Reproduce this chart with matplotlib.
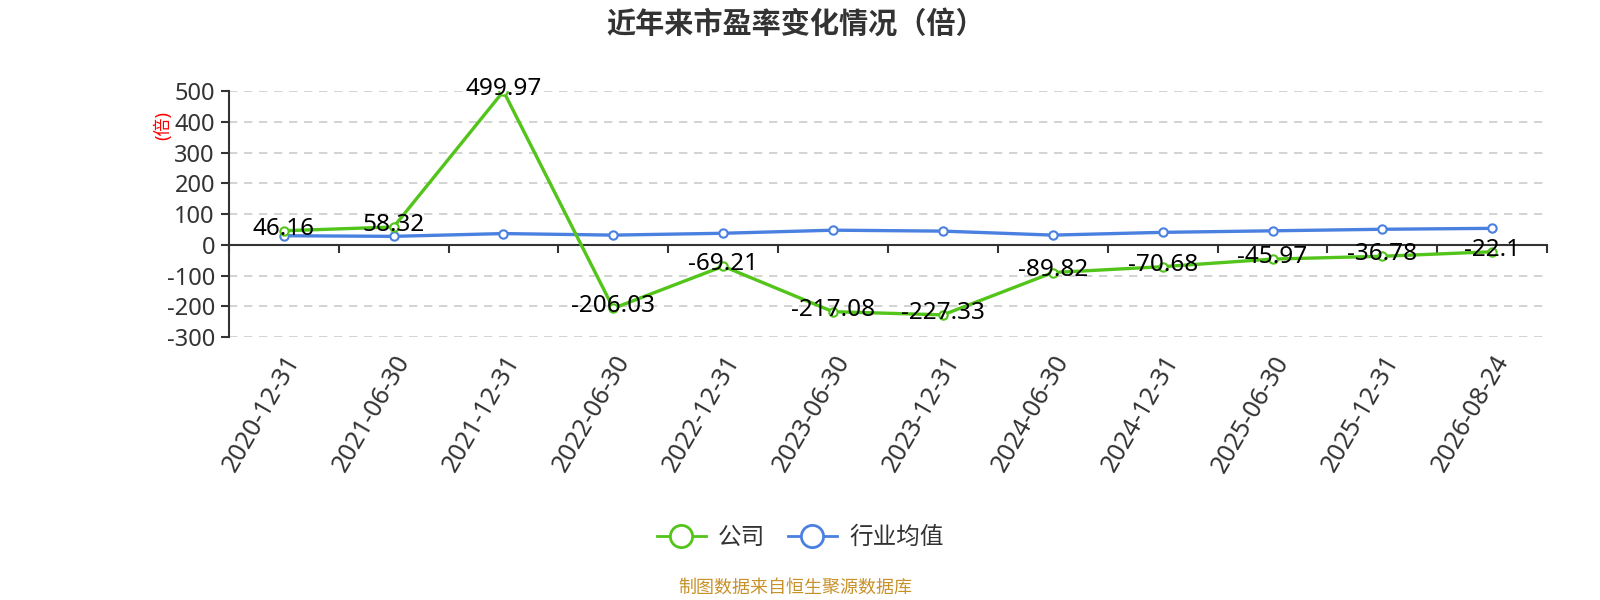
import numpy as np
import matplotlib
matplotlib.use('Agg')
import matplotlib.pyplot as plt
from matplotlib.lines import Line2D

plt.rcParams['font.family'] = ['Noto Sans', 'Noto Sans CJK SC', 'DejaVu Sans']

# Data
dates = ['2020-12-31', '2021-06-30', '2021-12-31', '2022-06-30', '2022-12-31', '2023-06-30',
         '2023-12-31', '2024-06-30', '2024-12-31', '2025-06-30', '2025-12-31', '2026-08-24']
company = [46.16, 58.32, 499.97, -206.03, -69.21, -217.08, -227.33, -89.82, -70.68, -45.97, -36.78, -22.1]
company_labels = ['46.16', '58.32', '499.97', '-206.03', '-69.21', '-217.08', '-227.33',
                  '-89.82', '-70.68', '-45.97', '-36.78', '-22.1']
industry = [30, 28, 37, 32, 38, 48, 45, 32, 41, 46, 51, 54]
yticks = [-300, -200, -100, 0, 100, 200, 300, 400, 500]

green = '#52C41A'
blue = '#4A80E0'
dark = '#333333'

fig = plt.figure(figsize=(16, 6), dpi=100)
ax = fig.add_axes([0.143, 0.438, 0.824, 0.41])

x = np.arange(len(dates))
ax.plot(x, industry, color=blue, lw=2.4, marker='o', ms=6, mfc='white', mec=blue, mew=1.5, zorder=3)
ax.plot(x, company, color=green, lw=2.4, marker='o', ms=6, mfc='white', mec=green, mew=1.5, zorder=4)

for xi, v, lab in zip(x, company, company_labels):
    ax.annotate(lab, (xi, v), xytext=(0, 1.5), textcoords='offset points',
                ha='center', va='center', fontsize=17.5, color='black', zorder=5)

ax.set_xlim(-0.5, len(dates) - 0.5)
ax.set_ylim(-300, 500)
ax.set_yticks(yticks)
ax.set_yticklabels([str(t) for t in yticks])
ax.tick_params(axis='y', labelsize=17, labelcolor=dark, color=dark, length=6, width=1.5, pad=4)
ax.yaxis.grid(True, linestyle=(0, (5, 4)), color='#cccccc', lw=1.2)
ax.set_axisbelow(True)

for s in ['top', 'right']:
    ax.spines[s].set_visible(False)
ax.spines['left'].set_color(dark)
ax.spines['left'].set_linewidth(1.5)
ax.spines['bottom'].set_position(('data', 0))
ax.spines['bottom'].set_color(dark)
ax.spines['bottom'].set_linewidth(1.5)
ax.set_xticks(np.arange(-0.5, len(dates), 1.0))
ax.set_xticklabels([])
ax.tick_params(axis='x', color=dark, length=6, width=1.5)

# category labels at bottom of the plot area
sec = ax.secondary_xaxis(0)
sec.set_xticks(x)
sec.set_xticklabels(dates, rotation=60, ha='right', rotation_mode='anchor', fontsize=18, color=dark)
sec.tick_params(length=0, pad=10)
sec.spines['bottom'].set_visible(False)

ax.text(-0.05, 0.86, '(倍)', transform=ax.transAxes, rotation=90, color='red',
        fontsize=13, ha='center', va='center')

fig.text(0.497, 0.958, '近年来市盈率变化情况（倍）', ha='center', va='center',
         fontsize=21, fontweight='bold', color=dark)

handles = [Line2D([], [], color=green, lw=2, marker='o', ms=16, mfc='white', mec=green, mew=2),
           Line2D([], [], color=blue, lw=2, marker='o', ms=16, mfc='white', mec=blue, mew=2)]
fig.legend(handles, ['公司', '行业均值'], loc='center', bbox_to_anchor=(0.5, 0.103), ncol=2,
           frameon=False, fontsize=17, labelcolor=dark, handlelength=2.1, columnspacing=0.95,
           handletextpad=0.5)

fig.text(0.497, 0.02, '制图数据来自恒生聚源数据库', ha='center', va='center',
         fontsize=13, color='#C8922A')

fig.savefig('out.png', dpi=100)
